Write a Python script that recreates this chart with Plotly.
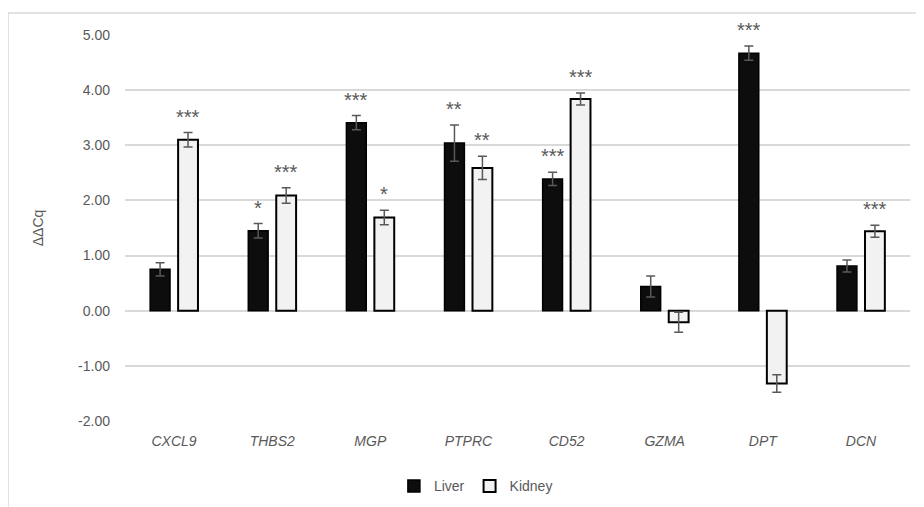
import plotly.graph_objects as go

genes = ["CXCL9", "THBS2", "MGP", "PTPRC", "CD52", "GZMA", "DPT", "DCN"]
liver = [0.75, 1.45, 3.41, 3.04, 2.39, 0.44, 4.67, 0.81]
liver_err = [0.12, 0.13, 0.13, 0.33, 0.12, 0.19, 0.13, 0.11]
kidney = [3.10, 2.09, 1.69, 2.59, 3.84, -0.21, -1.32, 1.44]
kidney_err = [0.13, 0.14, 0.13, 0.21, 0.11, 0.18, 0.16, 0.11]
liver_sig = ["", "*", "***", "**", "***", "", "***", ""]
kidney_sig = ["***", "***", "*", "**", "***", "", "", "***"]
y_ticks = [-2, -1, 0, 1, 2, 3, 4, 5]

FONT = "Liberation Sans Narrow, Liberation Sans, Arial, sans-serif"
GREY = "#595959"

fig = go.Figure()
fig.add_trace(go.Bar(
    name="Liver", x=genes, y=liver,
    marker=dict(color="#0d0d0d", line=dict(color="#000000", width=1.5)),
    error_y=dict(type="data", array=liver_err, color=GREY, thickness=1.5, width=4.5),
))
fig.add_trace(go.Bar(
    name="Kidney", x=genes, y=kidney,
    marker=dict(color="#f2f2f2", line=dict(color="#000000", width=2)),
    error_y=dict(type="data", array=kidney_err, color=GREY, thickness=1.5, width=4.5),
))

ann = []
for g, v, e, s in zip(genes, liver, liver_err, liver_sig):
    if s:
        ann.append(dict(x=g, y=v + e, text=s, showarrow=False, xshift=-14,
                        yanchor="bottom", yshift=3,
                        font=dict(family=FONT, size=20, color=GREY)))
for g, v, e, s in zip(genes, kidney, kidney_err, kidney_sig):
    if s:
        top = v + e if v >= 0 else e
        ann.append(dict(x=g, y=top, text=s, showarrow=False, xshift=14,
                        yanchor="bottom", yshift=3,
                        font=dict(family=FONT, size=20, color=GREY)))

fig.update_layout(
    width=916, height=499,
    margin=dict(l=117, r=14, t=27, b=86, autoexpand=False),
    paper_bgcolor="white", plot_bgcolor="white",
    barmode="group", bargap=0.43, bargroupgap=0.29,
    font=dict(family=FONT, size=14, color=GREY),
    showlegend=True,
    legend=dict(orientation="h", x=0.447, xanchor="center", y=-0.128, yanchor="top",
                font=dict(family=FONT, size=14, color=GREY), itemwidth=30),
    annotations=ann,
    shapes=[
        dict(type="line", xref="paper", yref="paper", x0=-0.149, x1=1.03, y0=1.057, y1=1.057,
             line=dict(color="#d9d9d9", width=1.5)),
        dict(type="line", xref="paper", yref="paper", x0=-0.149, x1=-0.149, y0=1.057, y1=-0.25,
             line=dict(color="#d9d9d9", width=1.5)),
    ],
)
fig.update_xaxes(
    tickfont=dict(family=FONT, size=14, color=GREY),
    tickvals=genes, ticktext=[f"<i>{g}</i>" for g in genes],
    showline=False, showgrid=False, ticks="", ticklabelstandoff=10, automargin=False,
)
fig.update_yaxes(
    range=[-2, 5], tickvals=y_ticks, ticktext=[f"{t:.2f}" for t in y_ticks],
    showgrid=True, gridcolor="#d9d9d9", gridwidth=1.5,
    zeroline=True, zerolinecolor="#d9d9d9", zerolinewidth=1.5,
    showline=False, ticks="", ticklabelstandoff=14, automargin=False,
    title=dict(text="ΔΔCq", font=dict(family=FONT, size=14, color=GREY), standoff=31),
)

fig.write_html("out.html")
